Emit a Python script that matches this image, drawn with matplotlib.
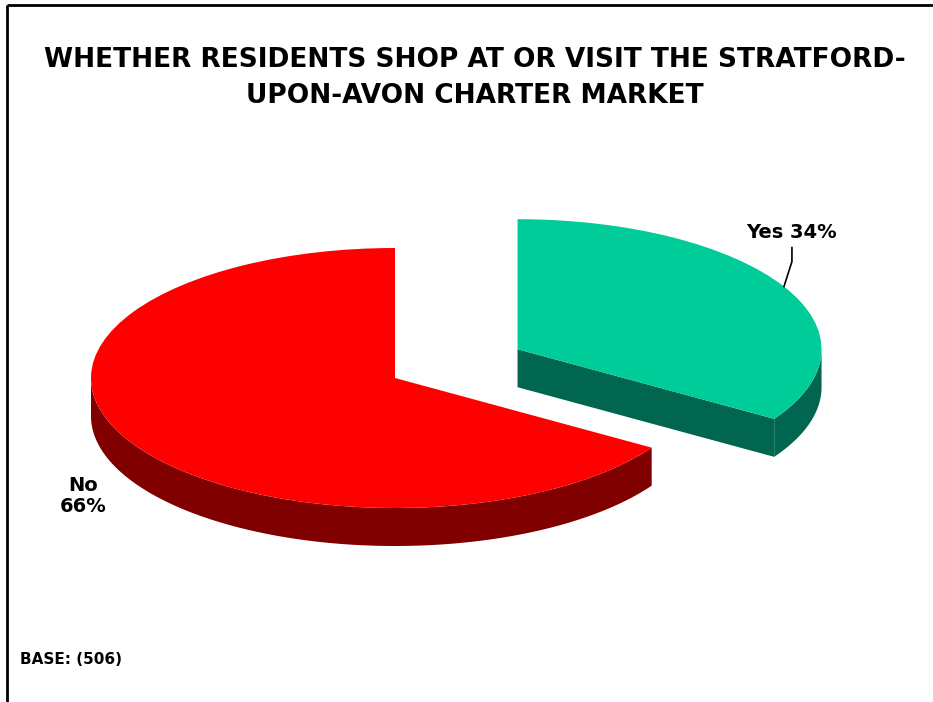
import numpy as np
import matplotlib.pyplot as plt
from matplotlib.transforms import Affine2D
from matplotlib.patches import Polygon

# survey answers
labels = ["Yes", "No"]
shares = [34, 66]
explode = [0.46, 0.0]

top_colors = ["#00CC99", "#FF0000"]
side_colors = ["#006650", "#800000"]

title_lines = [
    "WHETHER RESIDENTS SHOP AT OR VISIT THE STRATFORD-",
    "UPON-AVON CHARTER MARKET",
]
base_note = "BASE: (506)"

W, H = 933, 702
fig = plt.figure(figsize=(W / 100, H / 100), dpi=100)
ax = fig.add_axes([0, 0, 1, 1])

# pie laid out in pixel units (y up), squashed into an ellipse
cx, cy = 395, H - 378
rx, ry = 304, 130
depth = 38

wedges, _ = ax.pie(shares, colors=top_colors, explode=explode,
                   startangle=90, counterclock=False,
                   wedgeprops=dict(linewidth=0))
squash = Affine2D().scale(rx, ry).translate(cx, cy)
for w in wedges:
    w.set_transform(squash + ax.transData)
    w.set_zorder(3)


def rim(center, t):
    t = np.radians(t)
    return np.column_stack([cx + rx * (center[0] + np.cos(t)),
                            cy + ry * (center[1] + np.sin(t))])


# side walls: front half of the rim plus visible cut faces
for w, dark in zip(wedges, side_colors):
    t1, t2 = w.theta1, w.theta2
    lo, hi = max(t1, -180), min(t2, 0)
    if hi > lo:
        top = rim(w.center, np.linspace(lo, hi, 300))
        low = top - [0, depth]
        ax.add_patch(Polygon(np.vstack([top, low[::-1]]), closed=True,
                             facecolor=dark, edgecolor="none", zorder=1))
    for t, sign in ((t1, 1), (t2, -1)):
        if sign * np.cos(np.radians(t)) > 1e-6:
            c = rim(w.center, [0])[0] - [rx, 0]
            p = rim(w.center, [t])[0]
            face = np.array([c, p, p - [0, depth], c - [0, depth]])
            ax.add_patch(Polygon(face, closed=True, facecolor=dark,
                                 edgecolor="none", zorder=2))

# labels
yes = wedges[0]
mid = (yes.theta1 + yes.theta2) / 2
px, py = rim(yes.center, [mid])[0]
ax.plot([px, px + 8, px + 8], [py, py + 25, py + 39], color="black",
        lw=1.2, zorder=4)
ax.text(px + 8, py + 54, f"{labels[0]} {shares[0]}%", ha="center",
        va="center", fontsize=14, fontweight="bold")

ax.text(83, H - 496, f"{labels[1]}\n{shares[1]}%", ha="center", va="center",
        fontsize=14, fontweight="bold", linespacing=1.1)

# title and base
ax.text(475, H - 60, title_lines[0], ha="center", va="center",
        fontsize=19, fontweight="bold")
ax.text(475, H - 96, title_lines[1], ha="center", va="center",
        fontsize=19, fontweight="bold")
ax.text(20, H - 659, base_note, ha="left", va="center",
        fontsize=11, fontweight="bold")

# frame lines on the top and left
ax.plot([7, 7], [0, H - 5], color="black", lw=2, solid_capstyle="butt")
ax.plot([7, W], [H - 5, H - 5], color="black", lw=2, solid_capstyle="butt")

ax.set_xlim(0, W)
ax.set_ylim(0, H)
ax.set_aspect("auto")
ax.axis("off")

fig.savefig("out.png", dpi=100)
